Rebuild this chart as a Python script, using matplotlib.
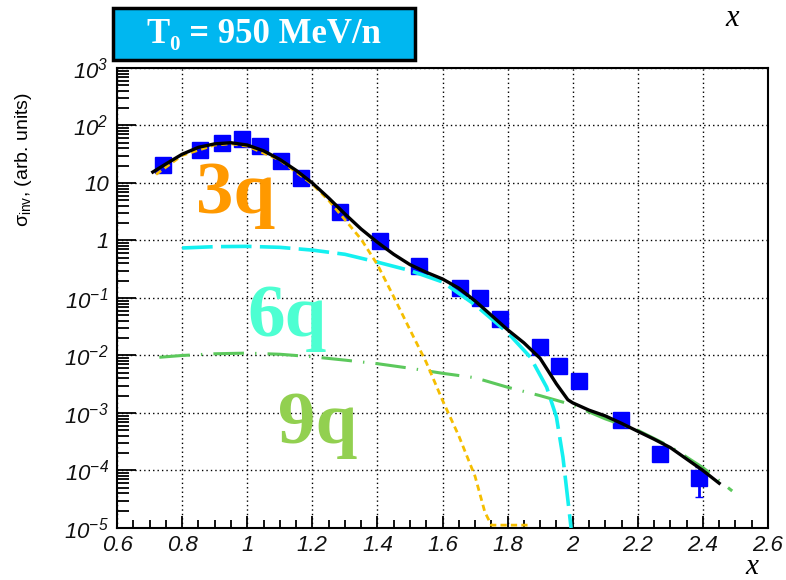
import numpy as np
import matplotlib
matplotlib.use('Agg')
import matplotlib.pyplot as plt
from matplotlib.patches import Rectangle
from matplotlib.ticker import FixedLocator, LogLocator, NullFormatter

plt.rcParams['font.family'] = 'Liberation Sans'
plt.rcParams['font.style'] = 'italic'
plt.rcParams['mathtext.fontset'] = 'custom'
plt.rcParams['mathtext.rm'] = 'Liberation Sans:italic'
plt.rcParams['mathtext.it'] = 'Liberation Sans:italic'
plt.rcParams['mathtext.sf'] = 'Liberation Sans:style=normal'
plt.rcParams['lines.scale_dashes'] = False

# Data points (blue squares)
x_data = [0.742, 0.855, 0.923, 0.985, 1.04, 1.105, 1.166, 1.286, 1.409, 1.529,
          1.655, 1.714, 1.778, 1.898, 1.957, 2.02, 2.148, 2.268, 2.388]
y_data = [20.6, 37.5, 50, 58, 44, 24, 12, 3.1, 0.98, 0.36,
          0.15, 0.1, 0.043, 0.014, 0.0066, 0.0036, 7.6e-4, 1.9e-4, 7.4e-5]
# error bar on the last point only
err_lo = [0] * 18 + [3.9e-5]
err_hi = [0] * 18 + [4.1e-5]

# Total (black)
x_tot = [0.71, 0.75, 0.80, 0.85, 0.90, 0.95, 1.00, 1.05, 1.10, 1.15, 1.20, 1.25,
         1.30, 1.35, 1.40, 1.45, 1.50, 1.55, 1.60, 1.65, 1.70, 1.75, 1.80, 1.85,
         1.90, 1.95, 1.985, 2.00, 2.05, 2.10, 2.15, 2.20, 2.25, 2.30, 2.35, 2.40, 2.45]
y_tot = [15.5, 21.4, 31.6, 41.7, 47.9, 50.1, 45.7, 36.3, 25.7, 16.6, 10.0, 5.5,
         2.9, 1.58, 0.93, 0.575, 0.38, 0.28, 0.214, 0.148, 0.089, 0.050, 0.028, 0.0166,
         0.0089, 0.0032, 0.0017, 0.0015, 0.00112, 0.00089, 0.00066, 0.00048, 0.00035,
         0.00025, 0.000158, 0.0001, 0.00006]

# 3q component (yellow)
x_3q = [0.72, 0.80, 0.90, 0.95, 1.00, 1.10, 1.20, 1.25, 1.30, 1.35, 1.40, 1.45,
        1.50, 1.55, 1.60, 1.65, 1.70, 1.73, 1.75, 1.87]
y_3q = [14.1, 30.2, 45.7, 47.9, 43.7, 25.1, 9.5, 5.0, 2.3, 1.05, 0.38, 0.105,
        0.028, 0.0076, 0.00166, 0.0004, 7.9e-5, 1.9e-5, 1.12e-5, 1.12e-5]

# 6q component (cyan)
x_6q = [0.80, 0.90, 1.00, 1.10, 1.20, 1.30, 1.40, 1.50, 1.60, 1.70, 1.80,
        1.87, 1.92, 1.95, 1.97, 1.985, 1.995]
y_6q = [0.74, 0.78, 0.79, 0.76, 0.68, 0.575, 0.42, 0.30, 0.19, 0.076, 0.025,
        0.0093, 0.0028, 0.00085, 0.00017, 3.1e-5, 1.0e-5]

# 9q component (green)
x_9q = [0.73, 0.80, 0.90, 1.00, 1.10, 1.20, 1.30, 1.40, 1.50, 1.60, 1.70,
        1.80, 1.90, 2.00, 2.10, 2.20, 2.30, 2.40, 2.49]
y_9q = [0.0093, 0.0100, 0.0107, 0.0110, 0.0105, 0.0095, 0.0083, 0.0072, 0.0060,
        0.0049, 0.0041, 0.0028, 0.0020, 0.00138, 0.00079, 0.0005, 0.00026,
        0.000112, 4.4e-5]

x_ticks = [0.6, 0.8, 1.0, 1.2, 1.4, 1.6, 1.8, 2.0, 2.2, 2.4, 2.6]
x_tick_labels = ['0.6', '0.8', '1', '1.2', '1.4', '1.6', '1.8', '2', '2.2', '2.4', '2.6']
y_ticks = [1e-5, 1e-4, 1e-3, 1e-2, 1e-1, 1, 10, 100, 1000]
y_tick_labels = [r'$10^{-5}$', r'$10^{-4}$', r'$10^{-3}$', r'$10^{-2}$',
                 r'$10^{-1}$', '1', '10', r'$10^{2}$', r'$10^{3}$']

fig = plt.figure(figsize=(7.86, 5.80), dpi=100)
ax = fig.add_axes([0.1489, 0.0897, 0.8282, 0.7931])

ax.set_xlim(0.6, 2.6)
ax.set_ylim(1e-5, 1e3)
ax.set_yscale('log')

# grid
ax.grid(True, which='major', color='black', linestyle=(0, (1, 2.2)), linewidth=1.0)
ax.set_axisbelow(True)

ax.plot(x_9q, y_9q, color='#5cc85c', lw=2.2, dashes=(22, 8, 1, 8), zorder=3)
ax.plot(x_6q, y_6q, color='#14f0f0', lw=2.6, dashes=(22, 6), zorder=3)
ax.plot(x_3q, y_3q, color='#f5be00', lw=2.0, dashes=(4.5, 3), zorder=4)
ax.errorbar(x_data, y_data, yerr=[err_lo, err_hi], fmt='s', color='#0000ff',
            markersize=11.5, capsize=3, elinewidth=2, zorder=2)
ax.plot(x_tot, y_tot, color='black', lw=2.4, zorder=5)

# ticks
ax.xaxis.set_major_locator(FixedLocator(x_ticks))
ax.xaxis.set_minor_locator(FixedLocator(np.arange(0.65, 2.6, 0.05)))
ax.set_xticklabels(x_tick_labels)
ax.yaxis.set_major_locator(FixedLocator(y_ticks))
ax.yaxis.set_minor_locator(LogLocator(base=10, subs=np.arange(2, 10), numticks=20))
ax.yaxis.set_minor_formatter(NullFormatter())
ax.set_yticklabels(y_tick_labels)
ax.tick_params(axis='both', which='both', direction='in', color='black', width=1.3,
               labelsize=16, labelcolor='#111111')
ax.tick_params(axis='x', which='major', length=9, pad=5)
ax.tick_params(axis='x', which='minor', length=5.5)
ax.tick_params(axis='y', which='major', length=14, pad=6)
ax.tick_params(axis='y', which='minor', length=8.5)
for sp in ax.spines.values():
    sp.set_linewidth(1.5)

ax.set_ylabel(r'σ$_{\mathsf{inv}}$, (arb. units)', style='normal', fontsize=14)
ax.yaxis.set_label_coords(-0.128, 0.8)

# component labels
ax.text(0.963, 10 ** 0.79, '3q', color='#ff9900', family='Liberation Serif',
        style='normal', weight='bold', fontsize=54, ha='center', va='center', zorder=6)
ax.text(1.123, 10 ** -1.35, '6q', color='#4dffd2', family='Liberation Serif',
        style='normal', weight='bold', fontsize=54, ha='center', va='center', zorder=6)
ax.text(1.218, 10 ** -3.21, '9q', color='#92d050', family='Liberation Serif',
        style='normal', weight='bold', fontsize=54, ha='center', va='center', zorder=6)

# x axis labels (top and bottom right)
fig.text(0.932, 0.968, 'x', family='Liberation Serif', style='italic',
         fontsize=22, ha='center', va='center')
fig.text(0.957, 0.022, 'x', family='Liberation Serif', style='italic',
         fontsize=21, ha='center', va='center')

# energy box
fig.patches.append(Rectangle((0.1438, 0.8966), 0.3842, 0.0894, transform=fig.transFigure,
                             facecolor='#00b7f0', edgecolor='black', linewidth=2.5))
fig.text(0.3359, 0.9413, 'T\u2080 = 950 MeV/n', color='white',
         family=['Liberation Serif', 'DejaVu Serif'], style='normal', weight='bold',
         fontsize=25, ha='center', va='center')

fig.savefig('out.png', dpi=100)
